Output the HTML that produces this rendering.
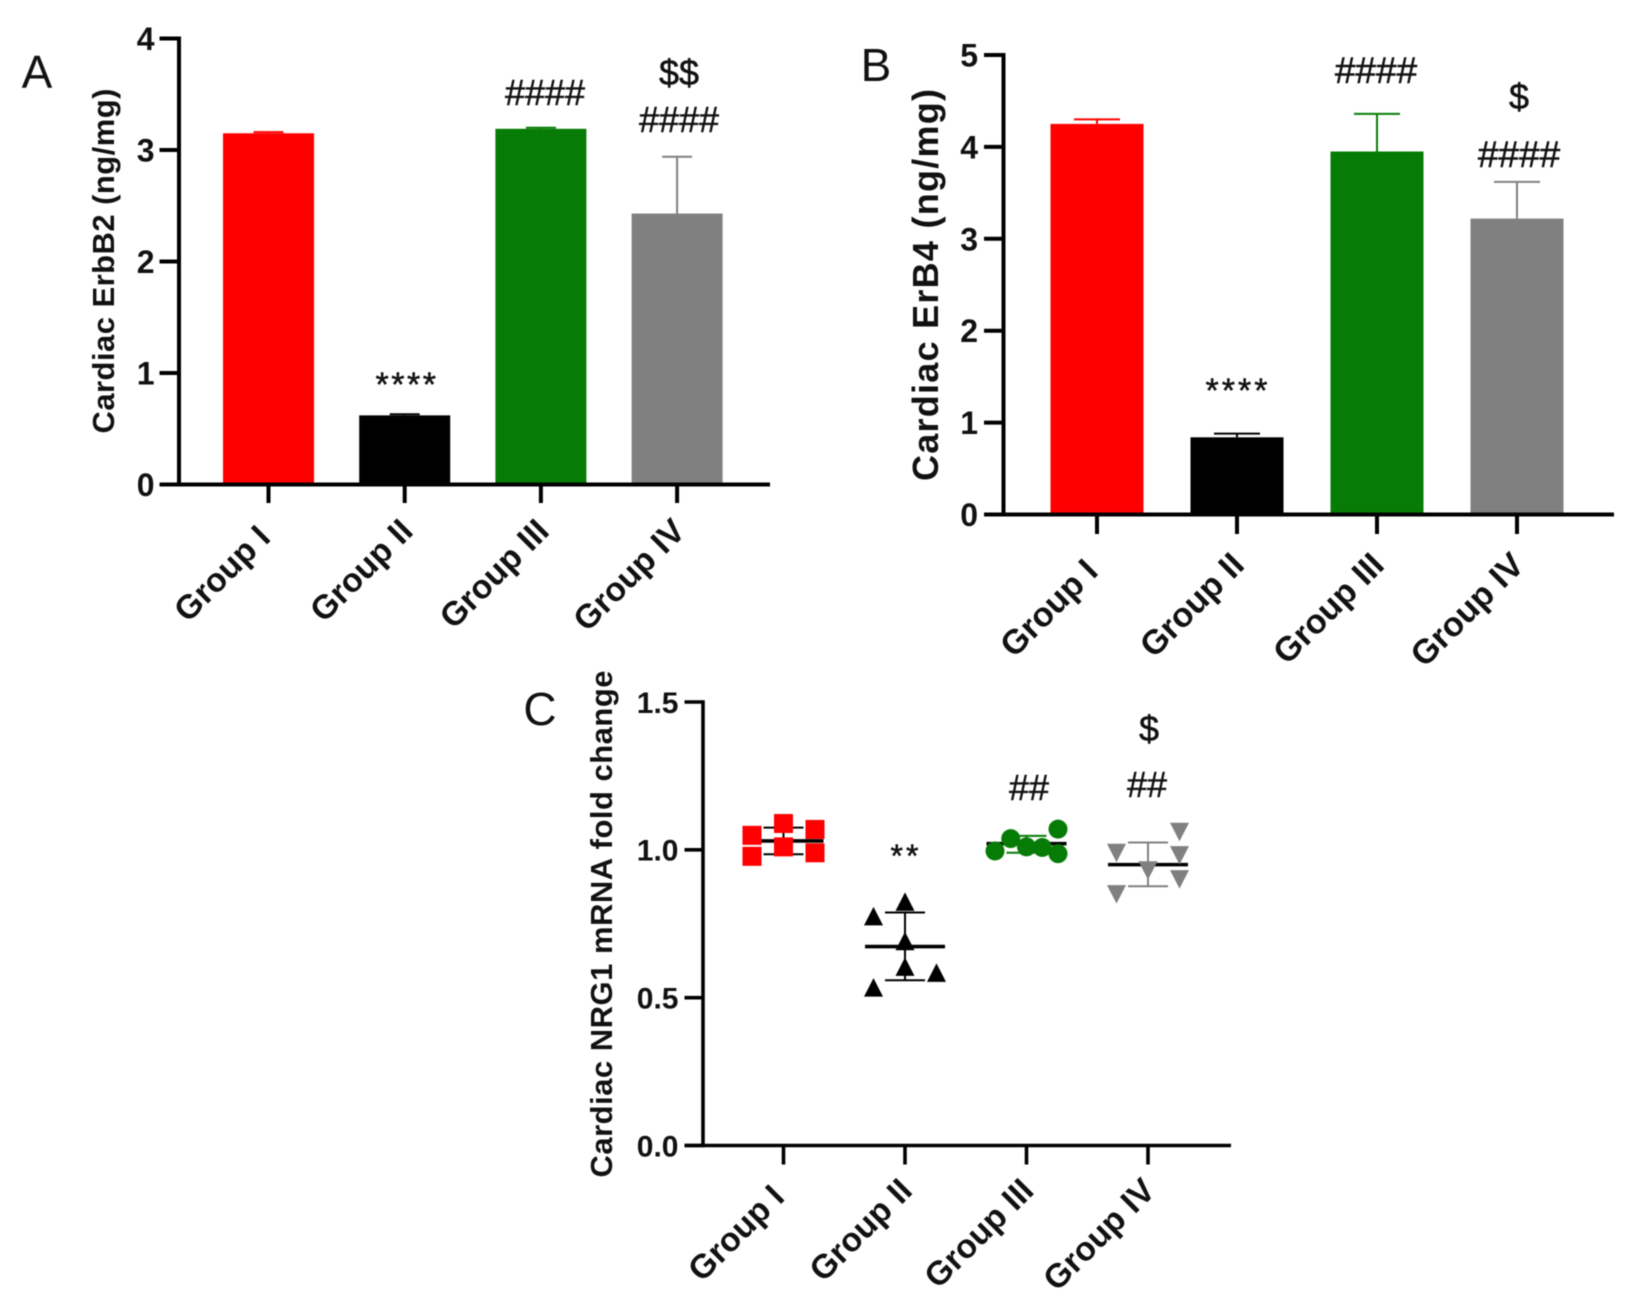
<!DOCTYPE html>
<html lang="en">
<head>
<meta charset="utf-8">
<title>Cardiac ErbB2, ErB4 and NRG1 by group</title>
<style>
html,body{margin:0;padding:0;background:#fff;width:1634px;height:1314px;overflow:hidden}
svg{display:block;filter:blur(.5px)}
text{font-family:"Liberation Sans",sans-serif;fill:#111}
.b{font-weight:700}
</style>
</head>
<body>
<svg id="figure" xmlns="http://www.w3.org/2000/svg" width="1634" height="1314" viewBox="0 0 1634 1314"></svg>
<script>
const categories = ['Group I', 'Group II', 'Group III', 'Group IV'];
const groupColors = ['#fe0000', '#000000', '#067c06', '#808080'];

const erbB2Means = [3.15, 0.62, 3.19, 2.43];
const erbB2Errors = [0.01, 0.01, 0.01, 0.51];
const erbB2Ticks = ['0', '1', '2', '3', '4'];

const erbB4Means = [4.25, 0.84, 3.95, 3.22];
const erbB4Errors = [0.05, 0.04, 0.41, 0.40];
const erbB4Ticks = ['0', '1', '2', '3', '4', '5'];

const nrg1Ticks = ['0.0', '0.5', '1.0', '1.5'];
const nrg1Means = [1.030, 0.673, 1.021, 0.950];
const nrg1Upper = [1.075, 0.788, 1.047, 1.025];
const nrg1Lower = [0.985, 0.559, 0.990, 0.877];
const nrg1GroupI = [1.049, 1.089, 1.069, 0.978, 1.010, 0.990];
const nrg1GroupII = [0.775, 0.824, 0.691, 0.604, 0.584, 0.534];
const nrg1GroupIII = [0.996, 1.038, 1.010, 1.008, 1.070, 0.987];
const nrg1GroupIV = [0.990, 1.061, 0.982, 0.931, 0.901, 0.850];
const swarmI = [-1, 0, 1, -1, 0, 1];
const swarmII = [-1, 0, 0, 0, 1, -1];
const swarmIII = [-1, -0.5, 0, 0.5, 1, 1];
const swarmIV = [-1, 1, 1, 0, 1, -1];

const NS = 'http://www.w3.org/2000/svg';
const svg = document.getElementById('figure');

function el(tag, attrs, txt) {
  const n = document.createElementNS(NS, tag);
  for (const k in attrs) n.setAttribute(k, attrs[k]);
  if (txt !== undefined) n.textContent = txt;
  svg.appendChild(n);
  return n;
}
function line(x1, y1, x2, y2, color, w) {
  return el('line', { x1, y1, x2, y2, stroke: color, 'stroke-width': w });
}
function makeAxes(p, ticks, yMax) {
  const yS = v => p.y0 - (p.y0 - p.yTop) * v / yMax;
  const xS = i => p.x1 + i * p.step;
  const yAxis = line(p.ax, p.yTop - p.sw / 2, p.ax, p.y0 + p.sw / 2, '#000', p.sw);
  
  
  const xAxis = line(p.tl, p.y0, p.xEnd, p.y0, '#000', p.sw);
  
  
  ticks.forEach((t, i) => {
    const v = i * yMax / (ticks.length - 1);
    const tk = line(p.tl, yS(v), p.ax, yS(v), '#000', p.sw);
    
    
    const lb = el('text', { x: p.tl - p.lg, y: yS(v) + p.fs * 0.36, 'text-anchor': 'end', class: 'b', 'font-size': p.fs }, t);
    
    
  });
  categories.forEach((c, i) => {
    const tk = line(xS(i), p.y0, xS(i), p.tb, '#000', p.sw);
    
    
    const lx = xS(i) + p.cx, ly = p.tb + p.cy;
    const lb = el('text', { x: lx, y: ly, dx: i === 0 ? -9 : 0, 'text-anchor': 'end', class: 'b', 'font-size': p.cfs, transform: `rotate(-45 ${lx} ${ly})` }, c);
    
    
  });
  return { xS, yS };
}
function barPanel(p, means, errors, ticks, yMax) {
  const yS = v => p.y0 - (p.y0 - p.yTop) * v / yMax;
  const xS = i => p.x1 + i * p.step;
  means.forEach((m, i) => {
    const bar = el('rect', { x: xS(i) - p.bw / 2, y: yS(m), width: p.bw, height: p.y0 - yS(m), fill: groupColors[i] });
    
    
    const stem = line(xS(i), yS(m), xS(i), yS(m + errors[i]), groupColors[i], 2);
    
    
    const cap = line(xS(i) - p.cap, yS(m + errors[i]), xS(i) + p.cap, yS(m + errors[i]), groupColors[i], 2);
    
    
  });
  makeAxes(p, ticks, yMax);
}

const panelA = { id: 'panel-a', ax: 179, tl: 159.5, xEnd: 770, y0: 484.5, yTop: 38.5, tb: 503, x1: 268.5, step: 136.2, bw: 91, cap: 15, sw: 4, fs: 32, lg: 5, cfs: 33.5, cx: 10, cy: 30 };
const panelB = { id: 'panel-b', ax: 1003.5, tl: 984, xEnd: 1614, y0: 514.5, yTop: 55, tb: 534, x1: 1097, step: 140, bw: 93, cap: 23, sw: 4, fs: 32, lg: 6, cfs: 34, cx: 9, cy: 33 };
const panelC = { id: 'panel-c', ax: 703, tl: 684.5, xEnd: 1231, y0: 1145.5, yTop: 702, tb: 1164.5, x1: 783.5, step: 121.5, sw: 3.6, fs: 30, lg: 6, cfs: 33.5, cx: 9, cy: 28 };

barPanel(panelA, erbB2Means, erbB2Errors, erbB2Ticks, 4);
barPanel(panelB, erbB4Means, erbB4Errors, erbB4Ticks, 5);

/* Panel C: scatter */
const cY = v => panelC.y0 - (panelC.y0 - panelC.yTop) * v / 1.5;
const cX = i => panelC.x1 + i * panelC.step;
const swarmStep = 31.5;
function marker(kind, x, y, color) {
  if (kind === 'square') return el('rect', { x: x - 9.5, y: y - 9.5, width: 19, height: 19, fill: color });
  if (kind === 'circle') return el('circle', { cx: x, cy: y, r: 9.5, fill: color });
  if (kind === 'up') return el('polygon', { points: `${x - 9.5},${y + 9} ${x + 9.5},${y + 9} ${x},${y - 9.5}`, fill: color });
  return el('polygon', { points: `${x - 9.5},${y - 9} ${x + 9.5},${y - 9} ${x},${y + 9.5}`, fill: color });
}
const nrg1Sets = [nrg1GroupI, nrg1GroupII, nrg1GroupIII, nrg1GroupIV];
const nrg1Swarm = [swarmI, swarmII, swarmIII, swarmIV];
const nrg1Kinds = ['square', 'up', 'circle', 'down'];
categories.forEach((c, i) => {
  const stem = line(cX(i), cY(nrg1Lower[i]), cX(i), cY(nrg1Upper[i]), groupColors[i === 0 ? 1 : i], 2);
  
  
  [nrg1Upper[i], nrg1Lower[i]].forEach(v => {
    const cap = line(cX(i) - 20, cY(v), cX(i) + 20, cY(v), groupColors[i === 0 ? 1 : i], 2);
    
    
  });
  const mean = line(cX(i) - 40, cY(nrg1Means[i]), cX(i) + 40, cY(nrg1Means[i]), '#000', 3.6);
  
  
  nrg1Sets[i].forEach((v, j) => {
    const m = marker(nrg1Kinds[i], cX(i) + nrg1Swarm[i][j] * swarmStep, cY(v), groupColors[i]);
    
    
  });
});
makeAxes(panelC, nrg1Ticks, 1.5);

function yTitle(name, txt, x, cy, len, fs) {
  const t = el('text', { x: 0, y: 0, 'text-anchor': 'middle', class: 'b', 'font-size': fs, textLength: len, lengthAdjust: 'spacing', transform: `translate(${x} ${cy}) rotate(-90)` }, txt);
  
  
}
yTitle('panel-a-y-axis-title', 'Cardiac ErbB2 (ng/mg)', 114, 261, 345, 31);
yTitle('panel-b-y-axis-title', 'Cardiac ErB4 (ng/mg)', 938, 285, 392, 36);
yTitle('panel-c-y-axis-title', 'Cardiac NRG1 mRNA fold change', 612, 924, 507, 31);

function note(name, txt, x, y, fs, ls) {
  const t = el('text', { x, y, 'text-anchor': 'middle', 'font-size': fs, 'letter-spacing': ls || 0, stroke: '#111', 'stroke-width': 0.5 }, txt);
  
  
}
function letter(name, txt, x, y) {
  const t = el('text', { x, y, 'text-anchor': 'middle', 'font-size': 46 }, txt);
  
  
}
letter('panel-letter-a', 'A', 37, 88);
letter('panel-letter-b', 'B', 876, 81);
letter('panel-letter-c', 'C', 540, 725);

note('panel-a-significance-group-ii', '****', 407, 396, 34, 2.5);
note('panel-a-significance-group-iii', '####', 545, 105, 36, 0);
note('panel-a-significance-group-iv', '####', 679, 132, 36, 0);
note('panel-a-significance-dollar', '$$', 679, 85, 36);

note('panel-b-significance-group-ii', '****', 1238, 402, 34, 3);
note('panel-b-significance-group-iii', '####', 1376, 83, 37, 0);
note('panel-b-significance-group-iv', '####', 1519, 167, 37, 0);
note('panel-b-significance-dollar', '$', 1519, 109, 36);

note('panel-c-significance-group-ii', '**', 906, 867, 32, 3);
note('panel-c-significance-group-iii', '##', 1029, 800, 36, 0);
note('panel-c-significance-group-iv', '##', 1147, 797, 36, 0);
note('panel-c-significance-dollar', '$', 1149, 741, 36);
</script>
</body>
</html>
